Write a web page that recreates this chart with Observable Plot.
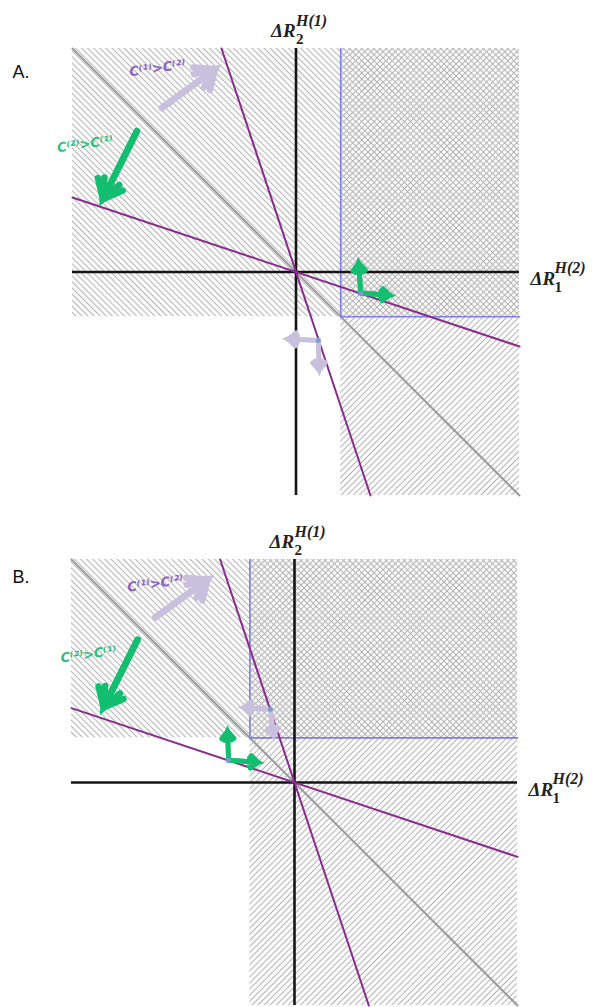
<!DOCTYPE html>
<html><head><meta charset="utf-8">
<script src="https://cdn.jsdelivr.net/npm/d3@7"></script>
<script src="https://cdn.jsdelivr.net/npm/@observablehq/plot@0.6"></script>
<style>body{margin:0;background:#fff;} #chart svg{display:block;}</style>
</head><body><div id="chart"></div>
<script>
// ---------------- data ----------------
const panelLetters = ["A.", "B."];
const extent = [-5, 5];
// corner of the blue boundary (dominance region) in each panel
const corners = [[1, -1], [-1, 1]];
// lines through the origin: slope and kind
const boundarySlopes = [-1, -3, -1 / 3];
const boundaryKinds = ["grey", "purple", "purple"];
// axis labels: [main, superscript, subscript]
const topAxisLabel = ["ΔR", "H(1)", "2"];
const rightAxisLabel = ["ΔR", "H(2)", "1"];
// preference annotations
const prefLabels = ["C⁽¹⁾>C⁽²⁾", "C⁽²⁾>C⁽¹⁾"];
const prefKinds = ["lavender", "green"];
const prefLabelPos = [
  [[-3.1, 4.56], [-4.72, 2.86]],
  [[-3.12, 4.46], [-4.62, 2.87]]
];
// big arrows [x1, y1, x2, y2], same order as prefKinds
const bigArrows = [
  [[-3.0, 3.67, -1.81, 4.54], [-3.56, 3.15, -4.32, 1.63]],
  [[-3.12, 3.70, -1.95, 4.55], [-3.52, 3.20, -4.28, 1.68]]
];
// small arrows [kind, x1, y1, x2, y2]
const smallArrows = [
  [["green", 1.45, -0.47, 1.40, 0.20], ["green", 1.45, -0.47, 2.10, -0.52],
   ["lavender", 0.50, -1.53, -0.18, -1.50], ["lavender", 0.50, -1.53, 0.52, -2.20]],
  [["green", -1.48, 0.50, -1.50, 1.15], ["green", -1.48, 0.50, -0.81, 0.45],
   ["lavender", -0.54, 1.64, -1.14, 1.68], ["lavender", -0.54, 1.64, -0.47, 1.06]]
];

// ---------------- styles / layout ----------------
const colors = {
  grey: "#9c9c9c", purple: "#8a2b8d", blue: "#7c7fe6", axis: "#151515",
  green: "#14be70", lavender: "#c9c0de", greenText: "#2cc07c", lavenderText: "#8a60c2",
  hatch: "#b4b4b4", dot: "#7b9bd6"
};
const layouts = [
  {height: 512, marginTop: 48, marginBottom: 17, marginLeft: 72, marginRight: 79, letterDy: 29, letterDx: -60},
  {height: 495, marginTop: 47, marginBottom: 2, marginLeft: 71, marginRight: 81, letterDy: 23, letterDx: -59}
];

function defsMark(id) {
  return () => {
    const ns = "http://www.w3.org/2000/svg";
    const defs = document.createElementNS(ns, "defs");
    const s = 4.3;
    for (const [name, angle] of [["down", -45], ["up", 45]]) {
      const p = document.createElementNS(ns, "pattern");
      p.setAttribute("id", `${name}${id}`);
      p.setAttribute("patternUnits", "userSpaceOnUse");
      p.setAttribute("width", s);
      p.setAttribute("height", s);
      p.setAttribute("patternTransform", `rotate(${angle})`);
      const l = document.createElementNS(ns, "line");
      l.setAttribute("x1", s / 2); l.setAttribute("x2", s / 2);
      l.setAttribute("y1", -1); l.setAttribute("y2", s + 1);
      l.setAttribute("stroke", colors.hatch);
      l.setAttribute("stroke-width", 1.1);
      p.appendChild(l);
      defs.appendChild(p);
    }
    return defs;
  };
}

function lineThroughOrigin(m) {
  const [lo, hi] = extent;
  if (Math.abs(m) >= 1) return [{x: hi / m, y: hi}, {x: lo / m, y: lo}];
  return [{x: lo, y: m * lo}, {x: hi, y: m * hi}];
}

function labelMarks(parts, anchor, offs) {
  const [x, y] = anchor;
  const common = {x: () => x, y: () => y, text: d => d, textAnchor: "start", lineAnchor: "bottom",
    fontFamily: "Liberation Serif", fontWeight: "bold", fill: "#222"};
  return [
    Plot.text([parts[0]], {...common, dx: offs[0][0], dy: offs[0][1], fontSize: 19, fontStyle: "italic"}),
    Plot.text([parts[1]], {...common, dx: offs[1][0], dy: offs[1][1], fontSize: 16, fontStyle: "italic"}),
    Plot.text([parts[2]], {...common, dx: offs[2][0], dy: offs[2][1], fontSize: 15})
  ];
}

// solid-looking arrow heads: two arrows with different head angles fill the chevron
function filledArrows(data, strokeWidth, headLength) {
  return [80, 45].map(a => Plot.arrow(data, {
    x1: "x1", y1: "y1", x2: "x2", y2: "y2", stroke: d => colors[d.kind],
    strokeWidth, headAngle: a, headLength, strokeLinejoin: "miter", strokeMiterlimit: 4
  }));
}

const root = document.getElementById("chart");
[0, 1].forEach(i => {
  const L = layouts[i];
  const [cx, cy] = corners[i];
  const [lo, hi] = extent;
  const lines = boundarySlopes.map((m, k) => ({kind: boundaryKinds[k], pts: lineThroughOrigin(m)}));
  const blue = [{x: cx, y: hi}, {x: cx, y: cy}, {x: hi, y: cy}];
  const big = bigArrows[i].map((a, k) => ({kind: prefKinds[k], x1: a[0], y1: a[1], x2: a[2], y2: a[3]}));
  const small = smallArrows[i].map(a => ({kind: a[0], x1: a[1], y1: a[2], x2: a[3], y2: a[4]}));
  const bases = small.filter((d, k) => k % 2 === 0);
  const prefs = prefLabels.map((t, k) => ({t, kind: prefKinds[k], x: prefLabelPos[i][k][0], y: prefLabelPos[i][k][1]}));

  const svg = Plot.plot({
    width: 598, height: L.height,
    marginTop: L.marginTop, marginBottom: L.marginBottom, marginLeft: L.marginLeft, marginRight: L.marginRight,
    x: {domain: extent, axis: null},
    y: {domain: extent, axis: null},
    style: {background: "transparent", overflow: "visible"},
    marks: [
      defsMark(i),
      Plot.rect([{x1: lo, x2: hi, y1: cy, y2: hi}], {x1: "x1", x2: "x2", y1: "y1", y2: "y2", fill: `url(#down${i})`}),
      Plot.rect([{x1: cx, x2: hi, y1: lo, y2: hi}], {x1: "x1", x2: "x2", y1: "y1", y2: "y2", fill: `url(#up${i})`}),
      ...lines.filter(l => l.kind === "grey").map(l => Plot.line(l.pts, {x: "x", y: "y", stroke: colors.grey, strokeWidth: 2})),
      Plot.line(blue, {x: "x", y: "y", stroke: colors.blue, strokeWidth: 1.6}),
      Plot.ruleY([0], {x1: lo, x2: hi, stroke: colors.axis, strokeWidth: 2.6}),
      Plot.ruleX([0], {y1: lo, y2: hi, stroke: colors.axis, strokeWidth: 2.6}),
      ...lines.filter(l => l.kind === "purple").map(l => Plot.line(l.pts, {x: "x", y: "y", stroke: colors.purple, strokeWidth: 2})),
      ...filledArrows(big, 6.5, 5),
      ...filledArrows(small, 4.8, 3.4),
      Plot.dot(bases, {x: "x1", y: "y1", r: 2.5, fill: colors.dot}),
      Plot.text(prefs, {x: "x", y: "y", text: "t", fill: d => colors[d.kind + "Text"], fontSize: 13, fontStyle: "italic", fontWeight: "bold", fontFamily: "DejaVu Sans", rotate: -8}),
      ...labelMarks(topAxisLabel, [0, hi], [[-25, -12], [0, -23], [0, -5]]),
      ...labelMarks(rightAxisLabel, [hi, 0], [[11, 13], [35, 1], [35, 20]]),
      Plot.text([panelLetters[i]], {x: () => lo, y: () => hi, text: d => d, dx: L.letterDx, dy: L.letterDy, textAnchor: "start", lineAnchor: "bottom", fontSize: 18, fontFamily: "Liberation Sans", fill: "#111"})
    ]
  });
  root.appendChild(svg);
});
</script>
</body></html>
